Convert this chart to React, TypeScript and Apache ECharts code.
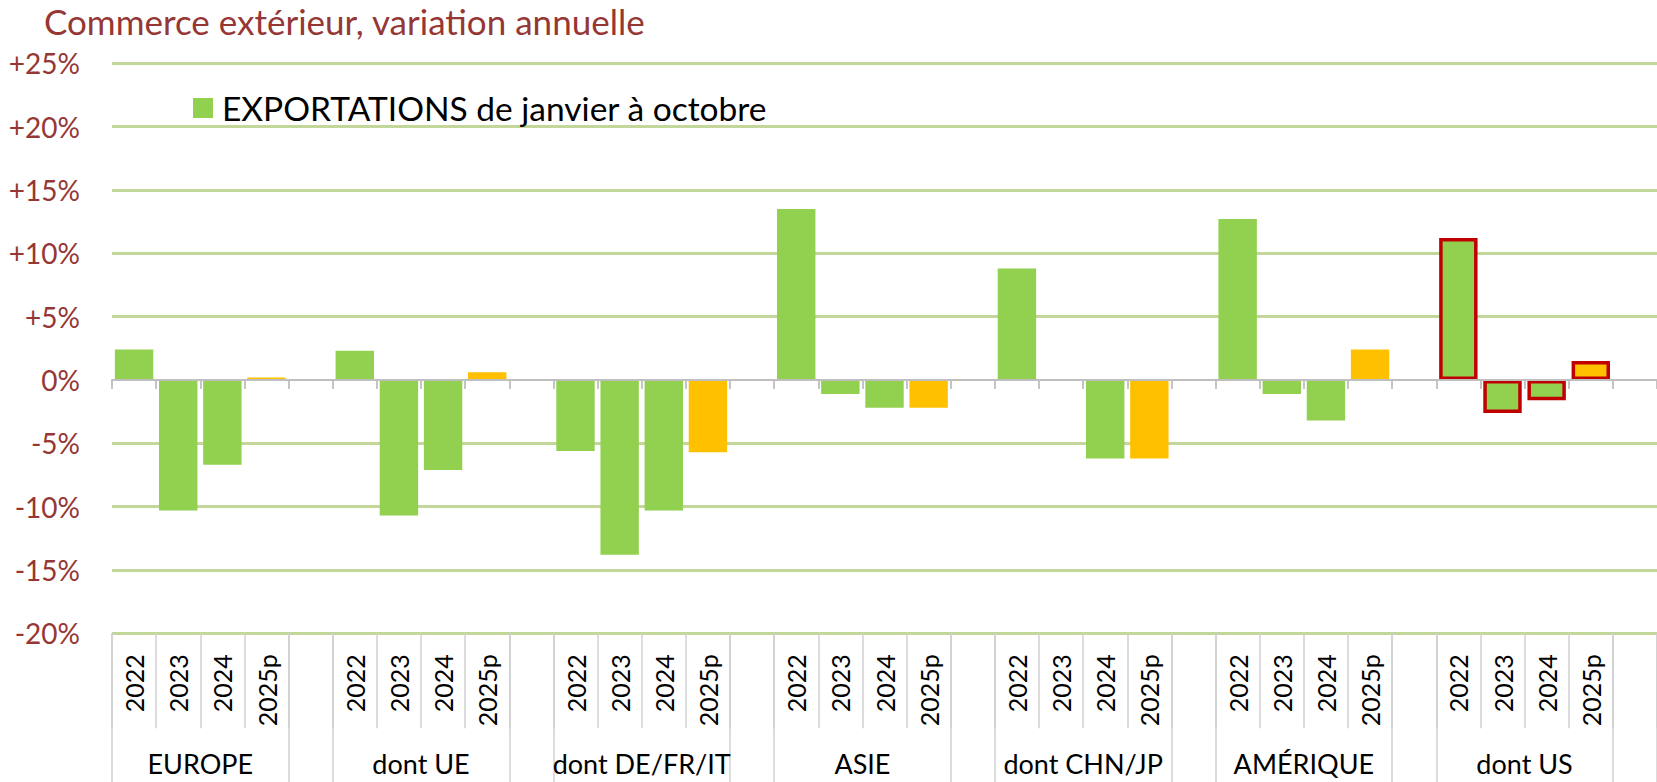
import React, { useEffect, useRef } from "react";
import * as echarts from "echarts";

const titleText = "Commerce extérieur, variation annuelle";
const seriesName = "EXPORTATIONS de janvier à octobre";
const groups = ["EUROPE", "dont UE", "dont DE/FR/IT", "ASIE", "dont CHN/JP", "AMÉRIQUE", "dont US"];
const years = ["2022", "2023", "2024", "2025p"];

const europe = [2.4, -10.3, -6.7, 0.2];
const ue = [2.3, -10.7, -7.1, 0.6];
const deFrIt = [-5.6, -13.8, -10.3, -5.7];
const asie = [13.5, -1.1, -2.2, -2.2];
const chnJp = [8.8, 0, -6.2, -6.2];
const amerique = [12.7, -1.1, -3.2, 2.4];
const us = [11.2, -2.6, -1.6, 1.5];
const groupValues = [europe, ue, deFrIt, asie, chnJp, amerique, us];

const yTicks = [-20, -15, -10, -5, 0, 5, 10, 15, 20, 25];
const forecastYear = "2025p";
const highlightedGroup = "dont US";

const GREEN = "#92D050";
const ORANGE = "#FFC000";
const RED_BORDER = "#C00000";
const TITLE_RED = "#953735";
const GRID_GREEN = "#C4D79B";
const FONT = 'Lato, "Noto Sans", sans-serif';

export default function App() {
  const ref = useRef<HTMLDivElement>(null);

  useEffect(() => {
    if (!ref.current) return;
    const chart = echarts.init(ref.current, undefined, { renderer: "svg" });

    const cats: string[] = [];
    const data: any[] = [];
    groups.forEach((g, gi) => {
      years.forEach((y, yi) => {
        cats.push(y);
        const v = groupValues[gi][yi];
        const item: any = {
          value: v,
          itemStyle: { color: y === forecastYear ? ORANGE : GREEN },
        };
        if (g === highlightedGroup) {
          item.itemStyle.borderColor = RED_BORDER;
          item.itemStyle.borderWidth = 3.5;
        }
        data.push(item);
      });
      cats.push("");
      data.push("-");
    });

    const nSlots = cats.length;
    const splitColors = yTicks.map((t) => (t === 0 ? "rgba(0,0,0,0)" : GRID_GREEN));

    chart.setOption({
      animation: false,
      backgroundColor: "#ffffff",
      title: {
        text: titleText,
        left: 44,
        top: 3,
        padding: 0,
        textStyle: { fontFamily: FONT, fontSize: 35, fontWeight: "normal", color: TITLE_RED },
      },
      legend: {
        left: 193,
        top: 91,
        padding: 0,
        itemWidth: 20,
        itemHeight: 20,
        icon: "rect",
        data: [{ name: seriesName, itemStyle: { color: GREEN } }],
        textStyle: { fontFamily: FONT, fontSize: 33.5, color: "#000", lineHeight: 20, padding: [0, 0, 0, 4] },
      },
      grid: {
        left: 112,
        right: 0,
        top: 63.3,
        bottom: 148.7,
        outerBoundsMode: "none",
        containLabel: false,
      },
      yAxis: {
        type: "value",
        min: -20,
        max: 25,
        interval: 5,
        axisLine: { show: false, onZero: false },
        axisTick: { show: false },
        splitLine: { show: true, lineStyle: { color: splitColors, width: 3 } },
        axisLabel: {
          margin: 32,
          fontFamily: FONT,
          fontSize: 28,
          color: TITLE_RED,
          formatter: (v: number) => (v > 0 ? "+" + v + "%" : v + "%"),
        },
      },
      xAxis: [
        {
          type: "category",
          data: cats,
          position: "bottom",
          boundaryGap: true,
          axisLine: { show: true, onZero: true, lineStyle: { color: "#BFBFBF", width: 2 } },
          axisTick: { show: true, interval: 0, length: 9, lineStyle: { color: "#BFBFBF", width: 1.8 } },
          axisLabel: { show: false },
          splitLine: { show: false },
          z: 5,
        },
        {
          type: "category",
          data: cats,
          position: "bottom",
          boundaryGap: true,
          axisLine: { show: false, onZero: false },
          axisTick: { show: true, interval: 0, length: 95, lineStyle: { color: "#D0D0D0", width: 1.5 } },
          axisLabel: {
            show: true,
            interval: 0,
            rotate: 90,
            margin: 21,
            fontFamily: FONT,
            fontSize: 25,
            color: "#000",
          },
          splitLine: { show: false },
        },
        {
          type: "category",
          data: cats,
          position: "bottom",
          boundaryGap: true,
          axisLine: { show: false, onZero: false },
          axisTick: {
            show: true,
            interval: (i: number) => i % 5 === 0 || i % 5 === 4,
            length: 150,
            lineStyle: { color: "#D0D0D0", width: 1.5 },
          },
          axisLabel: { show: false },
          splitLine: { show: false },
        },
        {
          type: "value",
          min: 0,
          max: nSlots,
          interval: 1,
          position: "bottom",
          axisLine: { show: false, onZero: false },
          axisTick: { show: false },
          splitLine: { show: false },
          axisLabel: {
            show: true,
            margin: 117,
            fontFamily: FONT,
            fontSize: 27,
            color: "#000",
            formatter: (v: number) => (v % 5 === 2 ? groups[(v - 2) / 5] : ""),
          },
        },
      ],
      series: [
        {
          name: seriesName,
          type: "bar",
          xAxisIndex: 0,
          yAxisIndex: 0,
          data,
          barCategoryGap: "13%",
          itemStyle: { color: GREEN },
        },
      ],
    });

    return () => chart.dispose();
  }, []);

  return (
    <div
      ref={ref}
      style={{ position: "absolute", left: 0, top: 0, width: 1657, height: 782 }}
    />
  );
}
